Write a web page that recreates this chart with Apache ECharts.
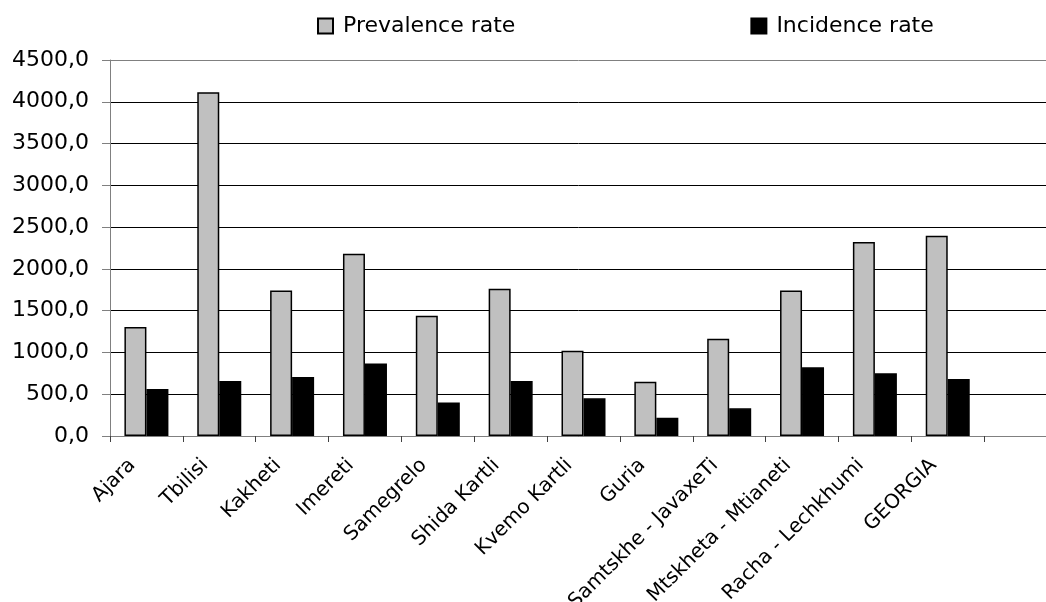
<!DOCTYPE html>
<html>
<head>
<meta charset="utf-8">
<script src="https://cdn.jsdelivr.net/npm/echarts@6/dist/echarts.min.js"></script>
<style>html,body{margin:0;padding:0;background:#fff}#c{width:1046px;height:602px}</style>
</head>
<body>
<div id="c"></div>
<script>
const categories = ['Ajara','Tbilisi','Kakheti','Imereti','Samegrelo','Shida Kartli','Kvemo Kartli','Guria','Samtskhe - JavaxeTi','Mtskheta - Mtianeti','Racha - Lechkhumi','GEORGIA',''];
const prevalence = [1305, 4115, 1742, 2182, 1440, 1763, 1021, 650, 1165, 1740, 2322, 2397, null];
const incidence = [563, 658, 706, 868, 402, 658, 451, 219, 331, 822, 750, 682, null];
const seriesNames = ['Prevalence rate', 'Incidence rate'];
const yMin = 0, yMax = 4500, yStep = 500;

const FONT = 'DejaVu Sans';
const chart = echarts.init(document.getElementById('c'), null, {renderer: 'canvas'});
const gridColors = [];
for (let v = yMin; v <= yMax; v += yStep) gridColors.push(v === yMax ? '#808080' : '#000000');

chart.setOption({
  animation: false,
  backgroundColor: '#ffffff',
  legend: {
    data: seriesNames,
    left: 312, top: 10,
    itemWidth: 15, itemHeight: 15,
    itemGap: 235,
    icon: 'rect',
    textStyle: {fontFamily: FONT, fontSize: 22, color: '#000', padding: [0, 0, 0, 5]}
  },
  grid: {left: 110, right: -11, top: 60, bottom: 166, containLabel: false, outerBoundsMode: 'none'},
  xAxis: {
    type: 'category', data: categories, boundaryGap: true,
    axisLine: {show: true, lineStyle: {color: '#808080', width: 1}},
    axisTick: {show: true, length: 6, inside: false, lineStyle: {color: '#404040'}},
    axisLabel: {interval: 0, rotate: 45, fontFamily: FONT, fontSize: 20, color: '#000', margin: 12,
                padding: [0, 20, 0, 0]},
    splitLine: {show: false}
  },
  yAxis: {
    type: 'value', min: yMin, max: yMax, interval: yStep,
    axisLine: {show: true, lineStyle: {color: '#808080', width: 1}},
    axisTick: {show: true, length: 8, lineStyle: {color: '#808080'}},
    axisLabel: {fontFamily: FONT, fontSize: 22, color: '#000', margin: 21,
                formatter: v => v.toFixed(1).replace('.', ',')},
    splitLine: {show: true, lineStyle: {color: gridColors, width: 1}}
  },
  series: [
    {name: seriesNames[0], type: 'bar', data: prevalence,
     barWidth: 22, barGap: '0%',
     itemStyle: {color: '#C0C0C0', borderColor: '#000', borderWidth: 1.5}},
    {name: seriesNames[1], type: 'bar', data: incidence,
     barWidth: 22, barGap: '0%',
     itemStyle: {color: '#000000', borderColor: '#000', borderWidth: 1.5}}
  ]
});
</script>
</body>
</html>
